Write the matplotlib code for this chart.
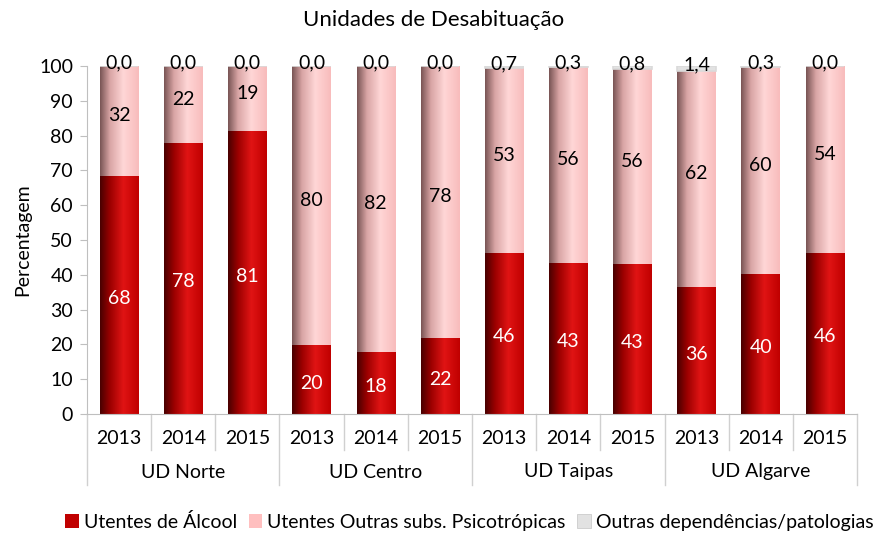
import numpy as np
import matplotlib
matplotlib.use("Agg")
import matplotlib.pyplot as plt
from matplotlib.colors import LinearSegmentedColormap
from matplotlib.patches import Patch
import matplotlib.transforms as mtransforms

plt.rcParams['font.family'] = ['Lato', 'DejaVu Sans']

groups = ["UD Norte", "UD Centro", "UD Taipas", "UD Algarve"]
years = ["2013", "2014", "2015"]
alcool = [68.4, 78.0, 81.2, 19.8, 17.9, 21.8, 46.3, 43.4, 43.2, 36.4, 40.2, 46.3]
outras_subs = [31.6, 22.0, 18.8, 80.2, 82.1, 78.2, 53.0, 56.3, 56.0, 62.2, 59.5, 53.7]
outras_dep = [0.0, 0.0, 0.0, 0.0, 0.0, 0.0, 0.7, 0.3, 0.8, 1.4, 0.3, 0.0]
series_names = ["Utentes de Álcool", "Utentes Outras subs. Psicotrópicas",
                "Outras dependências/patologias"]

title = "Unidades de Desabituação"
ylabel = "Percentagem"

W, H = 894, 534
FS = 14
fig = plt.figure(figsize=(W / 100, H / 100), dpi=100)
ax = fig.add_axes([87 / W, 1 - 414 / H, (857 - 87) / W, (414 - 66) / H])

n = len(alcool)
x = np.arange(n)
bw = 0.6
c_red, c_pink, c_gray = "#C00000", "#FFBFBF", "#E2E2E2"

b1 = ax.bar(x, alcool, bw, color=c_red, zorder=2)
b2 = ax.bar(x, outras_subs, bw, bottom=alcool, color=c_pink, zorder=2)
bot3 = np.array(alcool) + np.array(outras_subs)
b3 = ax.bar(x, outras_dep, bw, bottom=bot3, color=c_gray, edgecolor="#DADADA",
            linewidth=1.2, zorder=2.6)

cm_red = LinearSegmentedColormap.from_list("r", [(0, "#4a0000"), (0.25, "#9a0000"),
                                                  (0.6, "#e01414"), (1.0, "#c00000")])
cm_pink = LinearSegmentedColormap.from_list("p", [(0, "#7a5656"), (0.25, "#d8a4a4"),
                                                   (0.6, "#ffd6d6"), (1.0, "#f8bcbc")])
cm_gray = LinearSegmentedColormap.from_list("g", [(0, "#707070"), (0.3, "#cfcfcf"),
                                                   (0.6, "#f4f4f4"), (1.0, "#dedede")])
grad = np.linspace(0, 1, 64).reshape(1, -1)
for bars, cm in ((b1, cm_red), (b2, cm_pink), (b3, cm_gray)):
    for p in bars:
        if p.get_height() <= 0:
            continue
        x0, y0 = p.get_x(), p.get_y()
        im = ax.imshow(grad, cmap=cm, aspect="auto", zorder=2.5,
                       extent=(x0, x0 + p.get_width(), y0, y0 + p.get_height()))
        im.set_clip_path(p)

ax.set_xlim(-0.5, n - 0.5)
ax.set_ylim(0, 100)
ax.set_yticks(np.arange(0, 101, 10))
ax.tick_params(axis="y", labelsize=FS, length=5, color="#BFBFBF", labelcolor="#000000", pad=5)
ax.set_xticks([])
for s in ("top", "right"):
    ax.spines[s].set_visible(False)
ax.spines["left"].set_color("#BFBFBF")
ax.spines["bottom"].set_color("#BFBFBF")
ax.set_ylabel(ylabel, fontsize=FS, labelpad=6)
fig.text(0.485, 1 - 20 / H, title, ha="center", va="center", fontsize=16)

# labels
for i in range(n):
    a, o, d = alcool[i], outras_subs[i], outras_dep[i]
    ax.text(i, a / 2 - 1.0, f"{a:.0f}", ha="center", va="center", color="white", fontsize=FS, zorder=3)
    ax.text(i, a + o / 2 + 1.5, f"{o:.0f}", ha="center", va="center", color="black", fontsize=FS, zorder=3)
    ax.text(i, a + o + d / 2 + 1.0, f"{d:.1f}".replace(".", ","), ha="center", va="center",
            color="black", fontsize=FS, zorder=3)

# multi-level category axis
trans = mtransforms.blended_transform_factory(ax.transData, fig.transFigure)
def fy(py):
    return 1 - py / H
for i in range(n + 1):
    xb = i - 0.5
    long_ = (i % 3 == 0)
    ax.plot([xb, xb], [fy(414), fy(485 if long_ else 450)], transform=trans,
            color="#D0D0D0", lw=1, clip_on=False)
for i in range(n):
    ax.text(i, fy(438), years[i % 3], transform=trans, ha="center", va="center", fontsize=FS)
for g, name in enumerate(groups):
    ax.text(3 * g + 1, fy(472), name, transform=trans, ha="center", va="center", fontsize=FS)

handles = [Patch(facecolor=c_red), Patch(facecolor=c_pink),
           Patch(facecolor=c_gray, edgecolor="#CCCCCC", lw=0.6)]
fig.legend(handles, series_names, loc="center", bbox_to_anchor=(0.525, fy(522)),
           ncol=3, frameon=False, fontsize=FS, handlelength=0.7, handleheight=0.7,
           handletextpad=0.25, columnspacing=0.6, borderpad=0)

fig.savefig("out.png", dpi=100)
